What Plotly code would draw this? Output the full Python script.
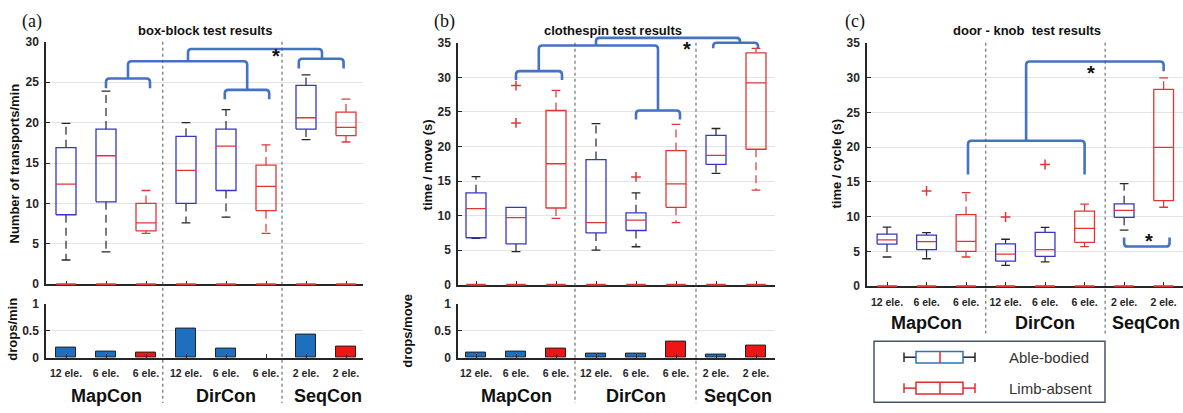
import plotly.graph_objects as go

W, H = 1183, 413
FONT = "Liberation Sans, Arial, sans-serif"
AX = "#262626"
BLUE = "#3535c8"
RED = "#e03535"
BLACK = "#262626"
BRK = "#4472c4"
BAR_BLUE = "#1f6fbf"
BAR_RED = "#f01414"

# ---------------- data ----------------
categories = ["12 ele.", "6 ele.", "6 ele.", "12 ele.", "6 ele.", "6 ele.", "2 ele.", "2 ele."]
subjects = ["able", "able", "limb", "able", "able", "limb", "able", "limb"]
group_names = ["MapCon", "DirCon", "SeqCon"]
group_pos = [2, 5, 7.55]

# (a) box-block test: transports/min
a_low = [3.0, 4.0, 6.3, 7.6, 8.3, 6.3, 17.9, 17.6]
a_q1 = [8.6, 10.2, 6.6, 10.0, 11.6, 9.1, 19.2, 18.4]
a_med = [12.4, 15.9, 7.6, 14.1, 17.1, 12.1, 20.6, 19.4]
a_q3 = [16.9, 19.2, 10.0, 18.3, 19.2, 14.75, 24.6, 21.3]
a_up = [19.9, 23.9, 11.6, 20.0, 21.6, 17.25, 25.9, 22.9]
a_out = [[], [], [], [], [], [], [], []]
a_drops = [0.19, 0.12, 0.10, 0.53, 0.16, 0.0, 0.42, 0.21]

# (b) clothespin test: time/move (s)
b_low = [6.7, 4.8, 9.6, 5.0, 5.5, 9.0, 16.1, 13.7]
b_q1 = [6.8, 5.9, 11.1, 7.5, 7.85, 11.2, 17.4, 19.6]
b_med = [11.0, 9.7, 17.5, 9.0, 9.35, 14.6, 18.7, 29.2]
b_q3 = [13.3, 11.2, 25.2, 18.1, 10.4, 19.4, 21.6, 33.55]
b_up = [15.65, 11.2, 28.1, 23.3, 13.3, 23.2, 22.6, 34.2]
b_out = [[], [28.8, 23.4], [], [], [15.6], [], [], []]
b_drops = [0.10, 0.11, 0.17, 0.08, 0.08, 0.30, 0.055, 0.22]

# (c) door-knob test: time/cycle (s)
c_low = [4.2, 3.95, 4.2, 3.0, 3.5, 5.7, 8.05, 11.35]
c_q1 = [6.05, 5.25, 5.0, 3.6, 4.3, 6.3, 9.9, 12.3]
c_med = [6.65, 6.4, 6.45, 4.6, 5.25, 8.3, 10.9, 19.95]
c_q3 = [7.5, 7.35, 10.3, 6.1, 7.75, 10.8, 11.85, 28.3]
c_up = [8.5, 7.7, 13.45, 6.75, 8.45, 11.8, 14.75, 29.95]
c_out = [[], [13.7], [], [9.95], [17.5], [], [], []]

# significance brackets: (x_left, x_right, y_bar, y_leg_left, y_leg_right)
a_brackets = [(2.0, 3.1, 25.45, 24.25, 24.25), (4.97, 6.08, 24.05, 22.9, 22.9),
              (2.55, 5.53, 27.6, 25.45, 24.05), (6.82, 7.94, 27.9, 26.7, 26.7),
              (4.05, 7.4, 29.1, 27.6, 27.9)]
a_stars = [(6.25, 28.3)]
b_brackets = [(2.0, 3.15, 30.9, 29.6, 29.6), (5.0, 6.1, 25.2, 23.9, 23.9),
              (2.57, 5.55, 34.6, 30.9, 25.2), (6.93, 8.05, 35.0, 34.2, 34.2),
              (4.0, 7.6, 35.7, 34.6, 35.0)]
b_stars = [(6.28, 34.3)]
c_brackets = [(3.05, 6.0, 20.9, 16.05, 16.05), (4.52, 8.0, 32.3, 20.9, 30.9),
              (7.0, 8.15, 5.7, 7.0, 7.0)]
c_stars = [(6.17, 30.8), (7.62, 6.7)]

# ---------------- layout geometry (pixels) ----------------
PA = dict(x0=46, x1=363, xr=(0.5, 8.425), yt=36, yb=287, yr=(0, 30), xa="x", ya="y")
PAb = dict(yt=307, yb=363, yr=(0, 1))
PB = dict(x0=458, x1=775, xr=(0.55, 8.475), yt=37, yb=287.5, yr=(0, 35), xa="x3", ya="y3")
PBb = dict(yt=307, yb=363, yr=(0, 1))
PC = dict(x0=867, x1=1183, xr=(0.494, 8.49), yt=37, yb=289, yr=(0, 35), xa="x5", ya="y5")

HW = 0.25   # box half width
CW = 0.11   # cap half width


def px_x(P, v):
    return P["x0"] + (v - P["xr"][0]) / (P["xr"][1] - P["xr"][0]) * (P["x1"] - P["x0"])


def px_y(P, v):
    return P["yb"] - (v - P["yr"][0]) / (P["yr"][1] - P["yr"][0]) * (P["yb"] - P["yt"])


def pp(x, y):
    return f"{x / W:.5f},{1 - y / H:.5f}"


fig = go.Figure()


def add_boxes(P, low, q1, med, q3, up, outs):
    xa, ya = P["xa"], P["ya"]
    for kind, bcol, wcol in [("able", BLUE, BLACK), ("limb", RED, RED)]:
        bx, by, mx, my, wx, wy, cx, cy, ox, oy = [], [], [], [], [], [], [], [], [], []
        for i, s in enumerate(subjects):
            if s != kind:
                continue
            x = i + 1
            bx += [x - HW, x + HW, x + HW, x - HW, x - HW, None]
            by += [q1[i], q1[i], q3[i], q3[i], q1[i], None]
            mx += [x - HW, x + HW, None]
            my += [med[i], med[i], None]
            wx += [x, x, None, x, x, None]
            wy += [q3[i], up[i], None, q1[i], low[i], None]
            if up[i] > q3[i]:
                cx += [x - CW, x + CW, None]
                cy += [up[i], up[i], None]
            if low[i] < q1[i]:
                cx += [x - CW, x + CW, None]
                cy += [low[i], low[i], None]
            for o in outs[i]:
                ox.append(x)
                oy.append(o)
        common = dict(xaxis=xa, yaxis=ya, hoverinfo="skip", showlegend=False)
        fig.add_trace(go.Scatter(x=wx, y=wy, mode="lines",
                                 line=dict(color=wcol, width=1.2, dash="8px,5px"), **common))
        fig.add_trace(go.Scatter(x=cx, y=cy, mode="lines", line=dict(color=wcol, width=1.3), **common))
        fig.add_trace(go.Scatter(x=bx, y=by, mode="lines", line=dict(color=bcol, width=1.3), **common))
        fig.add_trace(go.Scatter(x=mx, y=my, mode="lines", line=dict(color=RED, width=1.3), **common))
        if ox:
            fig.add_trace(go.Scatter(x=ox, y=oy, mode="markers",
                                     marker=dict(symbol="cross-thin", size=7,
                                                 line=dict(color=RED, width=1.5)), **common))
    # red zero dashes along the baseline
    fig.add_trace(go.Scatter(x=list(range(1, len(categories) + 1)), y=[0] * len(categories),
                             mode="markers", cliponaxis=False,
                             marker=dict(symbol="line-ew", size=14, line=dict(color=RED, width=2)),
                             xaxis=xa, yaxis=ya, hoverinfo="skip", showlegend=False))


def add_bars(xa, ya, drops):
    cols = [BAR_BLUE if s == "able" else BAR_RED for s in subjects]
    lw = [1 if d > 0 else 0 for d in drops]
    fig.add_trace(go.Bar(x=list(range(1, 9)), y=drops, width=0.5,
                         marker=dict(color=cols, line=dict(color="#222", width=lw)),
                         xaxis=xa, yaxis=ya, hoverinfo="skip", showlegend=False))


add_boxes(PA, a_low, a_q1, a_med, a_q3, a_up, a_out)
add_bars("x2", "y2", a_drops)
add_boxes(PB, b_low, b_q1, b_med, b_q3, b_up, b_out)
add_bars("x4", "y4", b_drops)
add_boxes(PC, c_low, c_q1, c_med, c_q3, c_up, c_out)


def xcfg(P, anchor, labels, layer="above traces"):
    return dict(domain=[P["x0"] / W, P["x1"] / W], range=list(P["xr"]), anchor=anchor,
                showline=True, linecolor=AX, linewidth=1.5, ticks="inside", ticklen=4,
                tickcolor=AX, tickwidth=1.2, tickvals=list(range(1, 9)), ticktext=categories,
                showticklabels=labels, ticklabelstandoff=5, layer=layer,
                tickfont=dict(family=FONT, size=10.5, color="#262626", weight="bold"),
                showgrid=False, zeroline=False, fixedrange=True)


def ycfg(yt, yb, rng, anchor, tickvals, ticktext):
    return dict(domain=[1 - yb / H, 1 - yt / H], range=list(rng), anchor=anchor,
                showline=True, linecolor=AX, linewidth=1.5, ticks="inside", ticklen=4,
                tickcolor=AX, tickwidth=1.2, tickvals=tickvals, ticktext=ticktext,
                ticklabelstandoff=3,
                tickfont=dict(family=FONT, size=12, color="#262626", weight="bold"),
                showgrid=True, gridcolor="#e3e3e3", gridwidth=1, zeroline=False, fixedrange=True)


t30 = list(range(0, 31, 5))
t35 = list(range(0, 36, 5))
tb = [0, 0.5, 1]
fig.update_layout(
    xaxis=xcfg(PA, "y", False, "below traces"),
    yaxis=ycfg(PA["yt"], PA["yb"], PA["yr"], "x", t30, [str(v) for v in t30]),
    xaxis2=xcfg(PA, "y2", True),
    yaxis2=ycfg(PAb["yt"], PAb["yb"], PAb["yr"], "x2", tb, ["0", "0.5", "1"]),
    xaxis3=xcfg(PB, "y3", False, "below traces"),
    yaxis3=ycfg(PB["yt"], PB["yb"], PB["yr"], "x3", t35, [str(v) for v in t35]),
    xaxis4=xcfg(PB, "y4", True),
    yaxis4=ycfg(PBb["yt"], PBb["yb"], PBb["yr"], "x4", tb, ["0", "0.5", "1"]),
    xaxis5=xcfg(PC, "y5", True, "below traces"),
    yaxis5=ycfg(PC["yt"], PC["yb"], PC["yr"], "x5", t35, [str(v) for v in t35]),
)

shapes = []
annotations = []


def bracket(P, xl, xr, yb, yl1, yl2):
    X1, X2 = px_x(P, xl), px_x(P, xr)
    YB, Y1, Y2 = px_y(P, yb), px_y(P, yl1), px_y(P, yl2)
    s = 1 if Y1 > YB else -1
    r = 3.5
    path = (f"M {pp(X1, Y1)} L {pp(X1, YB + s * r)} Q {pp(X1, YB)} {pp(X1 + r, YB)} "
            f"L {pp(X2 - r, YB)} Q {pp(X2, YB)} {pp(X2, YB + s * r)} L {pp(X2, Y2)}")
    shapes.append(dict(type="path", path=path, xref="paper", yref="paper",
                       line=dict(color=BRK, width=2.6), layer="above"))


for P, brs, stars in [(PA, a_brackets, a_stars), (PB, b_brackets, b_stars), (PC, c_brackets, c_stars)]:
    for b in brs:
        bracket(P, *b)
    for sx, sy in stars:
        annotations.append(dict(x=px_x(P, sx) / W, y=1 - (px_y(P, sy) + 1) / H, xref="paper", yref="paper",
                                text="*", showarrow=False, xanchor="center", yanchor="middle",
                                font=dict(family=FONT, size=20, color="#111", weight="bold")))

# dividers
for P, xs, ybot in [(PA, (3.42, 6.4), 410), (PB, (3.475, 6.5), 410), (PC, (3.5, 6.52), 338)]:
    for xv in xs:
        X = px_x(P, xv) / W
        shapes.append(dict(type="line", xref="paper", yref="paper", x0=X, x1=X,
                           y0=1 - P["yt"] / H, y1=1 - ybot / H,
                           line=dict(color="#555", width=1, dash="dot"), layer="above"))

# group labels
for P, ylab in [(PA, 403), (PB, 403), (PC, 327)]:
    for name, gx in zip(group_names, group_pos):
        annotations.append(dict(x=px_x(P, gx) / W, y=1 - ylab / H, xref="paper", yref="paper",
                                text=name, showarrow=False, xanchor="center", yanchor="middle",
                                font=dict(family=FONT, size=18, color="#111", weight="bold")))

# titles
for txt, cx in [("box-block test results", 205), ("clothespin test results", 613),
                ("door - knob  test results", 1027)]:
    annotations.append(dict(x=cx / W, y=1 - 24 / H, xref="paper", yref="paper", text=txt,
                            showarrow=False, xanchor="center", yanchor="middle",
                            font=dict(family=FONT, size=13, color="#111", weight="bold")))
# panel letters
for txt, cx in [("(a)", 32), ("(b)", 444), ("(c)", 855)]:
    annotations.append(dict(x=cx / W, y=1 - 15 / H, xref="paper", yref="paper", text=txt,
                            showarrow=False, xanchor="center", yanchor="middle",
                            font=dict(family="Liberation Serif, Times New Roman, serif", size=18, color="#111")))
# y titles
for txt, cx, cy in [("Number of transports/min", 15, 162), ("drops/min", 13, 334),
                    ("time / move (s)", 427, 164), ("drops/move", 408, 335),
                    ("time / cycle (s)", 837, 162)]:
    annotations.append(dict(x=cx / W, y=1 - cy / H, xref="paper", yref="paper", text=txt,
                            showarrow=False, xanchor="center", yanchor="middle", textangle=-90,
                            font=dict(family=FONT, size=13, color="#111", weight="bold")))

# legend box (panel c)
shapes.append(dict(type="rect", xref="paper", yref="paper", x0=874 / W, x1=1105 / W,
                   y0=1 - 409 / H, y1=1 - 346 / H, line=dict(color="#44546a", width=1.5),
                   fillcolor="white"))
for yc, bcol, wcol, label in [(362.5, "#2e75b6", BLACK, "Able-bodied"),
                              (394.5, "#e32b2b", "#e32b2b", "Limb-absent")]:
    shapes.append(dict(type="line", xref="paper", yref="paper", x0=904 / W, x1=916 / W,
                       y0=1 - yc / H, y1=1 - yc / H, line=dict(color=wcol, width=1.5)))
    shapes.append(dict(type="line", xref="paper", yref="paper", x0=963 / W, x1=975 / W,
                       y0=1 - yc / H, y1=1 - yc / H, line=dict(color=wcol, width=1.5)))
    for xc in (904, 975):
        shapes.append(dict(type="line", xref="paper", yref="paper", x0=xc / W, x1=xc / W,
                           y0=1 - (yc - 5) / H, y1=1 - (yc + 5) / H, line=dict(color=wcol, width=1.5)))
    shapes.append(dict(type="rect", xref="paper", yref="paper", x0=916 / W, x1=963 / W,
                       y0=1 - (yc + 6) / H, y1=1 - (yc - 6) / H, line=dict(color=bcol, width=1.5)))
    shapes.append(dict(type="line", xref="paper", yref="paper", x0=940 / W, x1=940 / W,
                       y0=1 - (yc + 6) / H, y1=1 - (yc - 6) / H, line=dict(color="#e32b2b", width=1.5)))
    annotations.append(dict(x=1007 / W, y=1 - yc / H, xref="paper", yref="paper", text=label,
                            showarrow=False, xanchor="left", yanchor="middle",
                            font=dict(family=FONT, size=15, color="#333")))

fig.update_layout(width=W, height=H, margin=dict(l=0, r=0, t=0, b=0),
                  paper_bgcolor="white", plot_bgcolor="white", showlegend=False,
                  shapes=shapes, annotations=annotations, bargap=0)

fig.write_html("out.html")
